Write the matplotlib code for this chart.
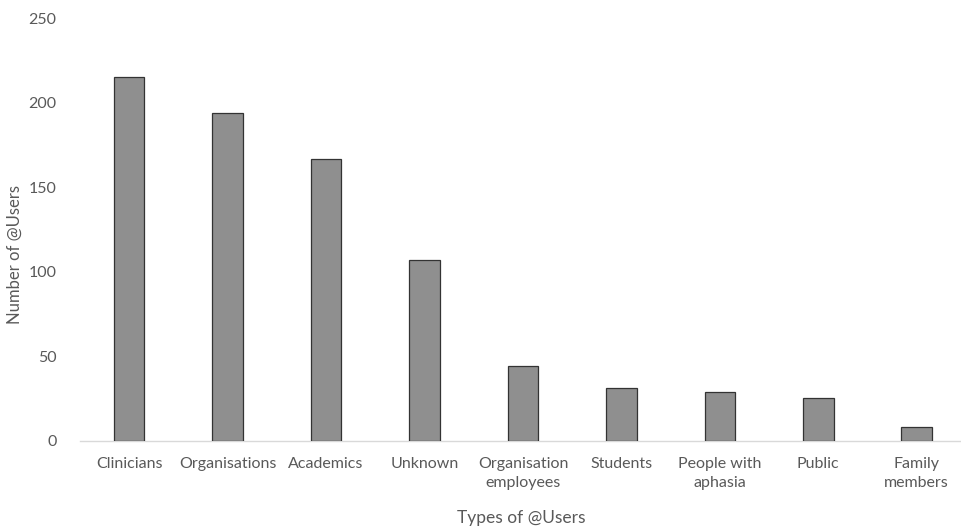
import matplotlib
matplotlib.use("Agg")
import matplotlib.pyplot as plt

# user categories and counts
categories = ["Clinicians", "Organisations", "Academics", "Unknown",
              "Organisation\nemployees", "Students", "People with\naphasia",
              "Public", "Family\nmembers"]
counts = [215, 194, 167, 107, 44, 31, 29, 25, 8]
yticks = [0, 50, 100, 150, 200, 250]

plt.rcParams['font.family'] = ['Lato', 'DejaVu Sans']
text_col = '#595959'

fig = plt.figure(figsize=(9.62, 5.28), dpi=100)
ax = fig.add_axes([80 / 962, 1 - 440.7 / 528, 882 / 962, (440.7 - 18.3) / 528])

x = range(len(categories))
ax.bar(x, counts, width=0.31, color='#8f8f8f', edgecolor='#333333', linewidth=0.9, zorder=3)

ax.set_xlim(-0.5, 8.46)
ax.set_ylim(0, 250)
ax.set_yticks(yticks)
ax.set_xticks(list(x))
ax.set_xticklabels(categories, fontsize=11.5, color=text_col, linespacing=1.45)
ax.tick_params(axis='y', labelsize=11.5, labelcolor=text_col, length=0, pad=17)
ax.tick_params(axis='x', length=0, pad=12)

for side in ['top', 'right', 'left']:
    ax.spines[side].set_visible(False)
ax.spines['bottom'].set_color('#d9d9d9')
ax.spines['bottom'].set_linewidth(1.0)

ax.set_xlabel('Types of @Users', fontsize=12.5, color=text_col, labelpad=14)
fig.text(15 / 962, 1 - 254 / 528, 'Number of @Users', rotation=90, fontsize=12,
         color=text_col, ha='center', va='center')

fig.savefig('out.png', dpi=100)
